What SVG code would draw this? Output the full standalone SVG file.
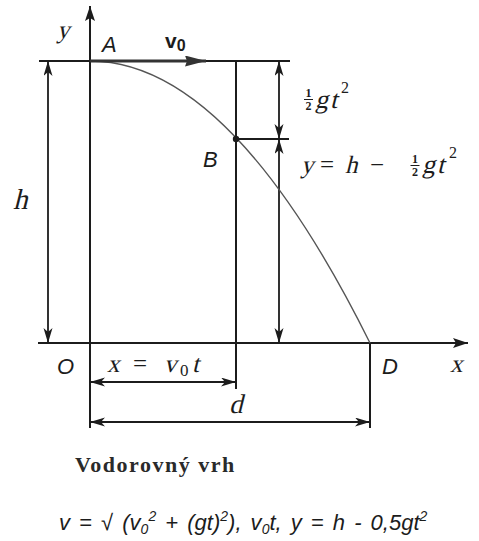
<svg xmlns="http://www.w3.org/2000/svg" width="479" height="541" viewBox="0 0 479 541">
<style>
.ln{stroke:#1c1c1c;stroke-width:2;fill:none}
.dim{stroke:#1c1c1c;stroke-width:1.8;fill:none;marker-start:url(#ah);marker-end:url(#ah)}
.crv{stroke:#555;stroke-width:1.4;fill:none}
.m{font-family:Liberation Serif,DejaVu Serif,serif;font-style:normal;fill:#1c1c1c}
.s{font-family:Liberation Sans,Arial,sans-serif;font-style:italic;fill:#1c1c1c}
.up{font-family:Liberation Serif,DejaVu Serif,serif;font-style:normal;fill:#1c1c1c}
.fr{font-family:Liberation Serif,DejaVu Serif,serif;font-weight:bold;font-size:12px;fill:#1c1c1c;text-anchor:middle}
</style>
<defs>
<marker id="ah" markerUnits="userSpaceOnUse" markerWidth="16" markerHeight="10" refX="15" refY="4.5" orient="auto-start-reverse">
<path d="M0,0 L15,4.5 L0,9 L4,4.5 z" fill="#1c1c1c"/>
</marker>
<marker id="ax" markerUnits="userSpaceOnUse" markerWidth="16" markerHeight="12" refX="15" refY="5" orient="auto">
<path d="M0,0 L15,5 L0,10 L3,5 z" fill="#1c1c1c"/>
</marker>
<marker id="vh" markerUnits="userSpaceOnUse" markerWidth="22" markerHeight="12" refX="21" refY="5.5" orient="auto">
<path d="M0,0 L21,5.5 L0,11 L2,5.5 z" fill="#333"/>
</marker>
</defs>

<g id="axes">
<line class="ln" x1="90" y1="428" x2="90" y2="6" marker-end="url(#ax)"/>
<line class="ln" x1="38" y1="343" x2="468" y2="343" marker-end="url(#ax)"/>
<line class="ln" x1="39" y1="61" x2="290" y2="61"/>
</g>

<g id="connectors">
<line class="ln" x1="236" y1="61" x2="236" y2="389"/>
<line class="ln" x1="236" y1="139" x2="289" y2="139"/>
<line class="ln" x1="370" y1="343" x2="370" y2="428"/>
<line class="dim" x1="48" y1="61" x2="48" y2="343"/>
<line class="dim" x1="279" y1="61" x2="279" y2="139"/>
<line class="dim" x1="279" y1="139" x2="279" y2="343"/>
<line class="dim" x1="90" y1="382" x2="236" y2="382"/>
<line class="dim" x1="90" y1="422" x2="370" y2="422"/>
<path class="crv" d="M90,61 Q230,61 370,343"/>
<line x1="90" y1="61" x2="206" y2="61" stroke="#333" stroke-width="3.2" marker-end="url(#vh)"/>
</g>

<g id="point-A">
<text class="s" x="102" y="52" font-size="22">A</text>
</g>
<g id="point-B">
<circle cx="236" cy="139" r="3.2" fill="#1c1c1c"/>
<text class="s" x="203" y="167" font-size="22">B</text>
</g>
<g id="point-O">
<text class="s" x="57" y="374" font-size="22">O</text>
</g>
<g id="point-D">
<text class="s" x="382" y="374" font-size="22">D</text>
</g>

<g id="labels">
<text class="m" transform="translate(57,38) skewX(-14)" font-size="25">y</text>
<text class="m" transform="translate(450,372) skewX(-14)" font-size="25">x</text>
<text class="m" transform="translate(13,209) skewX(-14)" font-size="29">h</text>
<text x="165" y="48" font-family="Liberation Sans,Arial,sans-serif" font-weight="bold" font-size="21" fill="#1c1c1c">v<tspan font-size="16" dy="3">0</tspan></text>

<text class="fr" x="308.5" y="97">1</text>
<line x1="304" y1="99.5" x2="313" y2="99.5" stroke="#1c1c1c" stroke-width="1"/>
<text class="fr" x="308.5" y="110">2</text>
<text class="m" transform="translate(315,108) skewX(-14)" font-size="26" letter-spacing="2">gt</text>
<text class="up" x="341" y="93" font-size="16">2</text>

<text class="m" transform="translate(301,173) skewX(-14)" font-size="25">y</text>
<text class="up" x="320" y="173" font-size="25">=</text>
<text class="m" transform="translate(345,173) skewX(-14)" font-size="25">h</text>
<text class="up" x="370" y="173" font-size="25">−</text>
<text class="fr" x="415" y="163">1</text>
<line x1="410.5" y1="165.5" x2="419.5" y2="165.5" stroke="#1c1c1c" stroke-width="1"/>
<text class="fr" x="415" y="176">2</text>
<text class="m" transform="translate(422,173) skewX(-14)" font-size="26" letter-spacing="2">gt</text>
<text class="up" x="449" y="158" font-size="16">2</text>

<text class="m" transform="translate(107,372) skewX(-14)" font-size="25">x</text>
<text class="up" x="133" y="372" font-size="25">=</text>
<text class="m" transform="translate(164,372) skewX(-14)" font-size="25">v</text>
<text class="up" x="180" y="376" font-size="17">0</text>
<text class="m" transform="translate(192,372) skewX(-14)" font-size="25">t</text>
<text class="m" transform="translate(229,413) skewX(-14)" font-size="27">d</text>

<text x="75" y="472" font-family="Liberation Serif,serif" font-weight="bold" font-size="22" letter-spacing="1.5" fill="#2a2a2a">Vodorovný vrh</text>
<text class="s" x="59" y="530" font-size="22" word-spacing="3" fill="#2a2a2a">v = √ (v<tspan font-size="14" dy="4">0</tspan><tspan font-size="14" dy="-13">2</tspan><tspan dy="9"> + (gt)</tspan><tspan font-size="14" dy="-9">2</tspan><tspan dy="9">), v</tspan><tspan font-size="14" dy="4">0</tspan><tspan dy="-4">t, y = h - 0,5gt</tspan><tspan font-size="14" dy="-9">2</tspan></text>
</g>
</svg>
